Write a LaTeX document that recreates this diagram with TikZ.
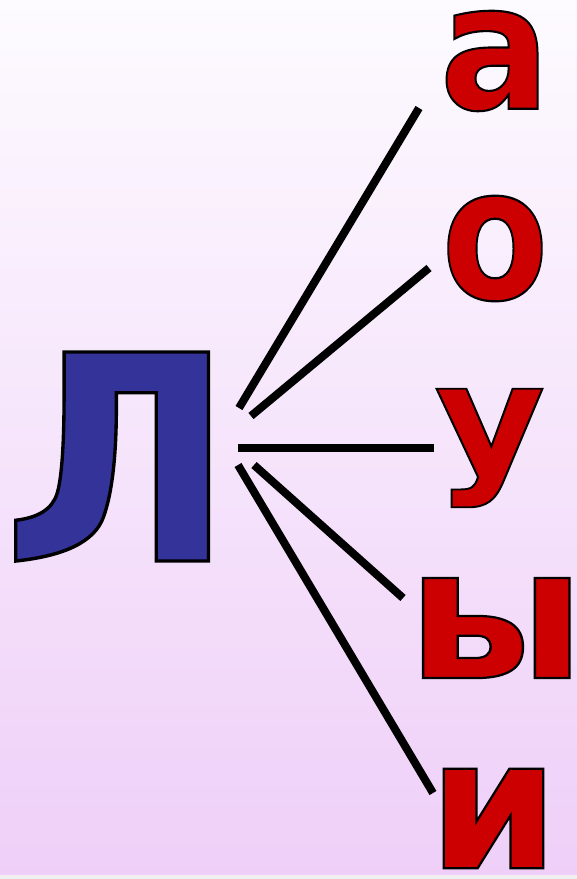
\documentclass[tikz,border=0pt]{standalone}
\usepackage{fontspec}
\usepackage{graphicx}
\newfontfamily\impfont{DejaVu Sans Bold}[FakeBold=1.2]
\definecolor{lblue}{RGB}{51,51,153}
\definecolor{lred}{RGB}{204,0,0}
\definecolor{bgtop}{RGB}{253,251,255}
\definecolor{bgbot}{RGB}{239,207,248}
\newcommand{\bigltr}[4]{\resizebox{#2pt}{#3pt}{\textcolor{#1}{\special{pdf:code 0 0 0 RG}\impfont\fontsize{100}{100}\selectfont #4}}}
\tikzset{
  ltr/.style={inner sep=0pt, outer sep=0pt, anchor=center},
  conn/.style={line width=8pt, black, line cap=butt}
}
\begin{document}
\begin{tikzpicture}[x=1pt,y=-1pt]
\useasboundingbox (0,0) rectangle (577,879);
\shade[top color=bgtop, bottom color=bgbot] (0,0) rectangle (577,875);
\fill[black!6] (0,875) rectangle (577,879);
% letters
\node[ltr] (L) at (118.5,456.5) {\bigltr{lblue}{231}{209}{Л}};
\node[ltr] (a) at (495,61) {\bigltr{lred}{111}{98}{а}};
\node[ltr] (o) at (495,248.5) {\bigltr{lred}{107}{103}{о}};
\node[ltr] (u) at (490,448) {\bigltr{lred}{111}{85}{у}};
\node[ltr] (y) at (496,628) {\bigltr{lred}{179}{100}{ы}};
\node[ltr] (i) at (493.5,818.5) {\bigltr{lred}{131}{99.5}{и}};
% connector end points
\coordinate (s1) at (239,408);
\coordinate (e1) at (419,108);
\coordinate (s2) at (251,416);
\coordinate (e2) at (429,268);
\coordinate (s3) at (238,448);
\coordinate (e3) at (434,448);
\coordinate (s4) at (254,465);
\coordinate (e4) at (403,598);
\coordinate (s5) at (238,465);
\coordinate (e5) at (433,793);
\draw[conn] (s1) -- (e1);
\draw[conn] (s2) -- (e2);
\draw[conn] (s3) -- (e3);
\draw[conn] (s4) -- (e4);
\draw[conn] (s5) -- (e5);
\end{tikzpicture}
\end{document}
